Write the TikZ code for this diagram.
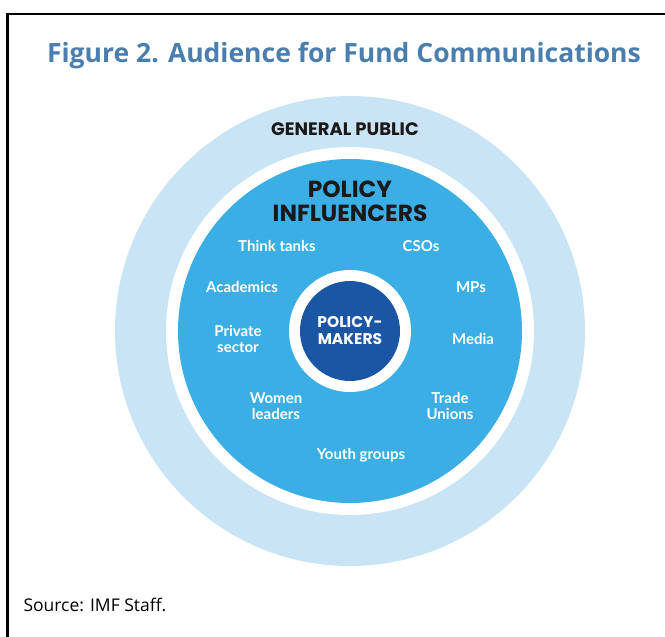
\documentclass[tikz,border=0pt]{standalone}
\usepackage{fontspec}
\setmainfont{Open Sans}
\newfontfamily\headfont{Poppins}
\newfontfamily\memberfont{Lato}
\usetikzlibrary{positioning}
\definecolor{titleblue}{HTML}{4A7EAE}
\definecolor{paleblue}{HTML}{C8E4F5}
\definecolor{midblue}{HTML}{3BAEE6}
\definecolor{deepblue}{HTML}{1B56A5}
\tikzset
{
    ring/.style    = {circle, inner sep=0pt, minimum size=#1},
    heading/.style = {align=center, text=black!90, font=\headfont\bfseries},
    member/.style  = {align=center, text=white, font=\memberfont\bfseries\fontsize{15}{15.5}\selectfont}
}
\begin{document}
\begin{tikzpicture}[x=1pt, y=-1pt]
    \useasboundingbox (0,0) rectangle (665,637);
    % frame
    \coordinate (frame bottom) at (7.5,640);
    \coordinate (frame corner) at (7.5,14);
    \coordinate (frame right) at (668,14);
    \draw [line width=2.5pt] (frame bottom) -- (frame corner) -- (frame right);
    \node [text=titleblue, font=\bfseries\fontsize{26.5}{30}\selectfont] (title) at (344,56) {Figure 2. Audience for Fund Communications};
    % rings
    \node [ring=470pt, fill=paleblue] (public) at (350,331) {};
    \node [ring=368pt, fill=white] (outer gap) at (public.center) {};
    \node [ring=344pt, fill=midblue] (influencers) at (public.center) {};
    \node [ring=122pt, fill=white] (inner gap) at (public.center) {};
    \node [ring=100pt, fill=deepblue] (makers) at (public.center) {};
    % headings
    \node [heading, font=\headfont\bfseries\fontsize{18}{20}\selectfont] (general) at (345,129) {GENERAL PUBLIC};
    \node [heading, font=\headfont\bfseries\fontsize{23.3}{24}\selectfont] (influencer title) at (350,201) {POLICY\\INFLUENCERS};
    \node [heading, text=white, font=\headfont\bfseries\fontsize{15.5}{17}\selectfont] (maker title) at (makers.center) {POLICY-\\MAKERS};
    % members
    \node [member] (think tanks) at (277,246) {Think tanks};
    \node [member] (csos) at (421,246) {CSOs};
    \node [member] (academics) at (242,287) {Academics};
    \node [member] (mps) at (471,287) {MPs};
    \node [member] (private) at (238,339) {Private\\sector};
    \node [member] (media) at (473,339) {Media};
    \node [member] (women) at (276,406) {Women\\leaders};
    \node [member] (unions) at (450,406) {Trade\\Unions};
    \node [member] (youth) at (361,455) {Youth groups};
    \node [anchor=west, font=\fontsize{17.5}{20}\selectfont] (source) at (20,605) {Source: IMF Staff.};
\end{tikzpicture}
\end{document}
